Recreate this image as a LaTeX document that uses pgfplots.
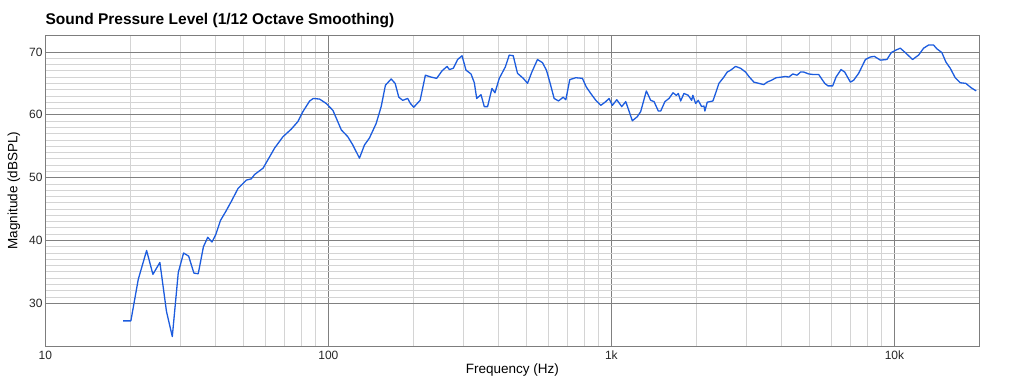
\documentclass[border=0pt]{standalone}
\usepackage{fontspec}
\setmainfont{Liberation Sans}
\usepackage{pgfplots}
\pgfplotsset{compat=1.18}
\definecolor{curve}{RGB}{28,92,222}
\definecolor{majgrid}{RGB}{128,128,128}
\definecolor{mingrid}{RGB}{212,212,212}
\definecolor{frame}{RGB}{125,125,125}
\begin{document}
\begin{tikzpicture}
\useasboundingbox (-45.3pt,-39pt) rectangle (965.7pt,346pt);
\begin{axis}[
  at={(0pt,0pt)}, anchor=south west,
  scale only axis, width=934.3pt, height=311pt,
  xmode=log, xmin=10, xmax=20000,
  ymin=23.2, ymax=72.7,
  xtick={10,100,1000,10000}, xticklabels={10,100,1k,10k},
  ytick={30,40,50,60,70},
  minor y tick num=9,
  major tick length=0pt, minor tick length=0pt,
  grid=both,
  major grid style={majgrid, line width=0.8pt},
  minor grid style={mingrid, line width=0.8pt},
  axis line style={frame, line width=0.9pt},
  /pgf/number format/assume math mode=true,
  tick label style={font=\fontsize{12}{14}\selectfont, text=black!85},
  xticklabel style={anchor=base, inner sep=0pt, yshift=-13pt},
  yticklabel style={anchor=east, inner sep=0pt, xshift=-2.6pt},
  title={\textbf{Sound Pressure Level (1/12 Octave Smoothing)}},
  title style={at={(axis description cs:0,1.0138)}, anchor=base west, inner sep=0pt, font=\fontsize{15.5}{18}\selectfont},
  xlabel={Frequency (Hz)},
  xlabel style={at={(axis description cs:0.5,-0.0878)}, anchor=base, inner sep=0pt, font=\fontsize{13.5}{16}\selectfont},
  ylabel={Magnitude (dBSPL)},
  ylabel style={at={(axis description cs:-0.02997,0.5)}, anchor=base, inner sep=0pt, rotate=0, font=\fontsize{13.5}{16}\selectfont},
]
\addplot[curve, line width=1.3pt, line join=round] coordinates {
(18.84,27.2) (20.06,27.2) (21.3,33.8) (22.8,38.4) (24.0,34.6) (25.4,36.5)
(26.8,28.7) (28.1,24.7) (29.5,34.9) (30.8,38.0) (32.1,37.5) (33.5,34.8)
(34.7,34.7) (36.2,39.0) (37.5,40.5) (38.8,39.75) (40.0,40.9) (41.6,43.2)
(43.4,44.6) (45.4,46.2) (48.0,48.3) (51.3,49.6) (53.4,49.8) (54.9,50.5)
(58.8,51.5) (62.0,53.3) (64.6,54.7) (69.1,56.5) (73.9,57.7) (78.0,58.9)
(81.3,60.5) (85.9,62.2) (88.5,62.6) (93.1,62.5) (98.3,61.8) (103.8,60.7)
(108.0,58.9) (111.1,57.6) (117.2,56.5) (122.0,55.2) (128.8,53.1) (134.2,55.2)
(139.7,56.3) (147.5,58.6) (153.7,61.3) (159.1,64.7) (166.7,65.7) (172.2,65.0)
(177.4,62.8) (183.2,62.3) (190.7,62.6) (195.0,61.8) (200.3,61.2) (211.0,62.3)
(220.2,66.3) (230.6,66.0) (241.4,65.8) (252.2,67.0) (262.7,67.7) (267.6,67.2)
(276.4,67.4) (286.3,68.8) (296.7,69.4) (306.5,67.1) (319.2,66.5) (327.9,65.1)
(334.3,62.6) (346.3,63.2) (355.6,61.3) (365.3,61.3) (378.5,64.2) (387.9,63.5)
(401.7,65.8) (421.8,67.6) (435.6,69.5) (450.0,69.4) (465.9,66.6) (488.4,65.8)
(505.5,65.0) (523.6,66.8) (548.1,68.8) (570.8,68.3) (589.6,67.1) (606.1,65.2)
(627.8,62.6) (650.4,62.2) (675.5,62.8) (690.3,62.4) (712.9,65.6) (748.8,65.9)
(790.0,65.8) (816.0,64.4) (845.3,63.4) (881,62.3) (917.6,61.5) (955.5,62.1)
(981,62.6) (1008,61.5) (1045,62.4) (1088,61.3) (1124,62.1) (1186,59.05)
(1235,59.7) (1269,60.5) (1329,63.8) (1377,62.3) (1415,62.1) (1465,60.6)
(1494,60.6) (1546,62.1) (1598,62.6) (1651,63.5) (1696,63.1) (1724,63.4)
(1757,62.2) (1805,63.4) (1869,63.1) (1921,62.3) (1941,63.1) (1985,61.8)
(2027,62.3) (2084,61.3) (2123,61.4) (2140,60.6) (2181,62.0) (2284,62.2)
(2346,63.7) (2398,65.0) (2497,66.0) (2566,66.8) (2638,67.1) (2747,67.7)
(2861,67.4) (2979,66.8) (3060,66.1) (3188,65.2) (3319,65.0) (3456,64.8)
(3551,65.2) (3680,65.5) (3820,65.9) (3990,66.0) (4121,66.1) (4235,66.0)
(4375,66.5) (4530,66.3) (4656,66.8) (4783,66.8) (4981,66.5) (5188,66.4)
(5403,66.4) (5479,66.0) (5673,65.0) (5826,64.6) (6053,64.6) (6219,66.0)
(6476,67.2) (6673,66.8) (6989,65.2) (7178,65.5) (7477,66.6) (7898,68.8)
(8222,69.2) (8492,69.3) (8919,68.7) (9408,68.8) (9750,69.9) (10120,70.3)
(10490,70.6) (10925,69.9) (11592,68.8) (12170,69.5) (12680,70.6) (13200,71.1)
(13750,71.1) (14125,70.5) (14710,69.9) (15200,68.4) (15750,67.4) (16400,65.9)
(17080,65.1) (17880,65.0) (18670,64.3) (19450,63.8)
};
\end{axis}
\end{tikzpicture}
\end{document}
